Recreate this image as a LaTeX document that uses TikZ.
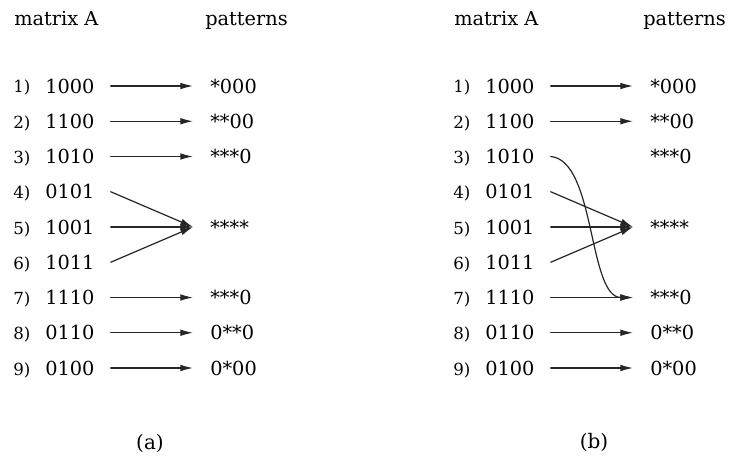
\documentclass[tikz,border=0pt]{standalone}
\usepackage{fontspec}
\setmainfont{DejaVu Serif}
\usetikzlibrary{arrows.meta}
\tikzset{
    head/.style={
        font=\fontsize{14.5}{17}\selectfont, anchor=base west, inner sep=0pt
    }
}

\begin{document}
\begin{tikzpicture}[x=0.75pt, y=-0.75pt, line cap=round, line join=round]

% background
\useasboundingbox (0,0) rectangle (729,460);

\tikzset{
  idx/.style={font=\fontsize{12.5}{15}\selectfont, anchor=base west, inner sep=0pt},
  num/.style={font=\fontsize{14.5}{17}\selectfont, anchor=west, inner xsep=12pt, inner ysep=0pt, text height=10.6pt, text depth=0pt},
  pat/.style={font=\fontsize{14.5}{17}\selectfont, anchor=west, inner xsep=12.75pt, inner ysep=0pt, text height=10.6pt, text depth=0pt},
  arr/.style={draw=black!85, line width=0.9pt, -{Latex[length=9.5pt, width=5pt]}},
  caplab/.style={font=\fontsize{15}{18}\selectfont},
}

% headers
\node[head] (a-mat) at (14,26)  {matrix A};
\node[head] (a-pat) at (205,26) {patterns};
\node[head] (b-mat) at (454,26) {matrix A};
\node[head] (b-pat) at (643,26) {patterns};

% rows and patterns
\foreach \p/\dx in {a/0, b/440} {
  \foreach \i/\v in {1/1000, 2/1100, 3/1010, 4/0101, 5/1001, 6/1011, 7/1110, 8/0110, 9/0100} {
    \pgfmathsetmacro{\y}{86+(\i-1)*35.25}
    \node[idx] (\p-l\i) at (13+\dx, \y+7) {\i)};
    \node[num] (\p-n\i) at (29+\dx, \y) {\v};
  }
  \foreach \i/\w in {1/{*000}, 2/{**00}, 3/{***0}, 5/{****}, 7/{***0}, 8/{0**0}, 9/{0*00}} {
    \pgfmathsetmacro{\y}{86+(\i-1)*35.25}
    \node[pat] (\p-q\i) at (193+\dx, \y) {\w};
  }
}

% arrows (a)
\foreach \i in {1,2,3,7,8,9}
  \draw[arr] (a-n\i.east) -- (a-q\i.west);
\draw[arr] (a-n4.east) -- (a-q5.west);
\draw[arr] (a-n5.east) -- (a-q5.west);
\draw[arr] (a-n6.east) -- (a-q5.west);

% arrows (b)
\foreach \i in {1,2,7,8,9}
  \draw[arr] (b-n\i.east) -- (b-q\i.west);
\draw[arr] (b-n3.east) .. controls +(45,4) and +(-45,0) .. (b-q7.west);
\draw[arr] (b-n4.east) -- (b-q5.west);
\draw[arr] (b-n5.east) -- (b-q5.west);
\draw[arr] (b-n6.east) -- (b-q5.west);

% captions
\node[caplab] (a-cap) at (150,443) {(a)};
\node[caplab] (b-cap) at (594,442) {(b)};

\end{tikzpicture}
\end{document}
